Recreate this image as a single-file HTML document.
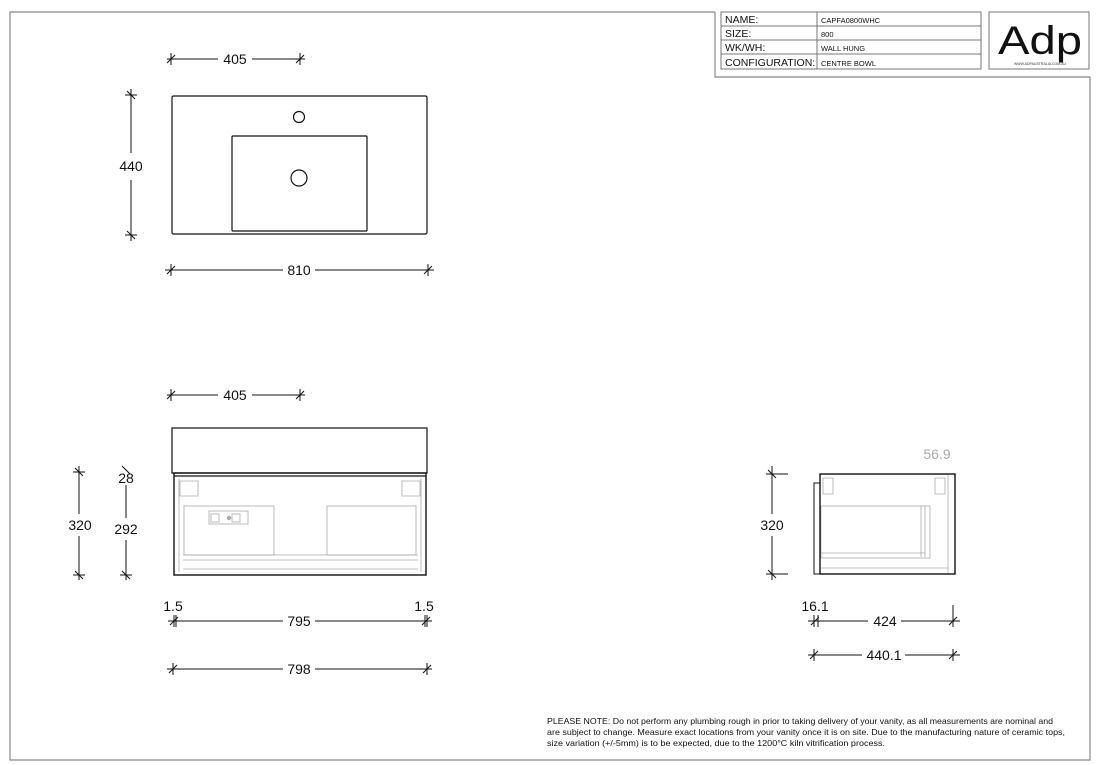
<!DOCTYPE html>
<html><head><meta charset="utf-8"><style>
html,body{margin:0;padding:0;background:#fff;}
svg{display:block;font-family:"Liberation Sans","DejaVu Sans",sans-serif;}
</style></head><body>
<svg width="1100" height="765" viewBox="0 0 1100 765" xmlns="http://www.w3.org/2000/svg">
<rect width="1100" height="765" fill="#fff"/>
<!-- frame -->
<g stroke="#888" stroke-width="1.2" fill="none">
<polyline points="715,12 10,12 10,760 1090,760 1090,77 715,77 715,12"/>
</g>
<!-- title block -->
<g stroke="#777" stroke-width="1" fill="none">
<rect x="721" y="12" width="260" height="57"/>
<line x1="721" y1="26" x2="981" y2="26"/>
<line x1="721" y1="40" x2="981" y2="40"/>
<line x1="721" y1="54" x2="981" y2="54"/>
<line x1="817" y1="12" x2="817" y2="69"/>
<rect x="989" y="12" width="100" height="57"/>
</g>
<g font-size="10.5" fill="#111">
<text x="725" y="23">NAME:</text>
<text x="725" y="37">SIZE:</text>
<text x="725" y="51">WK/WH:</text>
<text x="725" y="66">CONFIGURATION:</text>
</g>
<g font-size="7.5" fill="#111">
<text x="821" y="23">CAPFA0800WHC</text>
<text x="821" y="37">800</text>
<text x="821" y="51">WALL HUNG</text>
<text x="821" y="66">CENTRE BOWL</text>
</g>
<text x="1040" y="54" font-size="40" text-anchor="middle" fill="#111" textLength="84" lengthAdjust="spacingAndGlyphs">Adp</text>
<text x="1040" y="65" font-size="3.5" text-anchor="middle" fill="#333">WWW.ADPAUSTRALIA.COM.AU</text>

<g stroke="#111" fill="none" stroke-width="1.2">
<!-- top view -->
<rect x="172" y="96" width="255" height="138" rx="1.5"/>
<rect x="232" y="136" width="135" height="95" rx="1"/>
<circle cx="299" cy="117" r="5.5"/>
<circle cx="299" cy="178" r="8"/>
</g>

<!-- dimension lines -->
<g stroke="#111" stroke-width="1" fill="none">
<!-- 405 top -->
<line x1="167" y1="59" x2="218" y2="59"/><line x1="252" y1="59" x2="305" y2="59"/>
<line x1="171" y1="53" x2="171" y2="65"/><line x1="167" y1="63" x2="175" y2="55"/>
<line x1="300" y1="53" x2="300" y2="65"/><line x1="296" y1="63" x2="304" y2="55"/>
<!-- 440 -->
<line x1="131" y1="89" x2="131" y2="153"/><line x1="131" y1="180" x2="131" y2="241"/>
<line x1="125" y1="95" x2="137" y2="95"/><line x1="127" y1="91" x2="135" y2="99"/>
<line x1="125" y1="235" x2="137" y2="235"/><line x1="127" y1="231" x2="135" y2="239"/>
<!-- 810 -->
<line x1="165" y1="270" x2="283" y2="270"/><line x1="315" y1="270" x2="434" y2="270"/>
<line x1="171" y1="264" x2="171" y2="276"/><line x1="167" y1="274" x2="175" y2="266"/>
<line x1="428" y1="264" x2="428" y2="276"/><line x1="424" y1="274" x2="432" y2="266"/>
<!-- 405 front -->
<line x1="167" y1="395" x2="218" y2="395"/><line x1="252" y1="395" x2="305" y2="395"/>
<line x1="171" y1="389" x2="171" y2="401"/><line x1="167" y1="399" x2="175" y2="391"/>
<line x1="300" y1="389" x2="300" y2="401"/><line x1="296" y1="399" x2="304" y2="391"/>
<!-- 320 front -->
<line x1="79" y1="466" x2="79" y2="514"/><line x1="79" y1="536" x2="79" y2="580"/>
<line x1="73" y1="472" x2="85" y2="472"/><line x1="75" y1="468" x2="83" y2="476"/>
<line x1="73" y1="575" x2="85" y2="575"/><line x1="75" y1="571" x2="83" y2="579"/>
<!-- 292 -->
<line x1="126" y1="485" x2="126" y2="518"/><line x1="126" y1="540" x2="126" y2="580"/>
<line x1="120" y1="575" x2="132" y2="575"/><line x1="122" y1="571" x2="130" y2="579"/>
<line x1="122" y1="466" x2="130" y2="474"/>
<!-- 795 -->
<line x1="168" y1="621" x2="283" y2="621"/><line x1="315" y1="621" x2="432" y2="621"/>
<line x1="174" y1="615" x2="174" y2="627"/><line x1="170" y1="625" x2="178" y2="617"/>
<line x1="176" y1="615" x2="176" y2="627"/>
<line x1="425" y1="615" x2="425" y2="627"/><line x1="427" y1="615" x2="427" y2="627"/><line x1="422" y1="625" x2="430" y2="617"/>
<!-- 798 -->
<line x1="167" y1="669" x2="283" y2="669"/><line x1="315" y1="669" x2="432" y2="669"/>
<line x1="173" y1="663" x2="173" y2="675"/><line x1="169" y1="673" x2="177" y2="665"/>
<line x1="427" y1="663" x2="427" y2="675"/><line x1="423" y1="673" x2="431" y2="665"/>
<!-- 320 side -->
<line x1="772" y1="466" x2="772" y2="514"/><line x1="772" y1="536" x2="772" y2="580"/>
<line x1="766" y1="474" x2="788" y2="474"/><line x1="768" y1="470" x2="776" y2="478"/>
<line x1="766" y1="574" x2="788" y2="574"/><line x1="768" y1="570" x2="776" y2="578"/>
<!-- 424 -->
<line x1="808" y1="621" x2="868" y2="621"/><line x1="901" y1="621" x2="960" y2="621"/>
<line x1="814" y1="615" x2="814" y2="627"/><line x1="818" y1="615" x2="818" y2="627"/>
<line x1="811" y1="625" x2="819" y2="617"/>
<line x1="953" y1="605" x2="953" y2="627"/><line x1="949" y1="625" x2="957" y2="617"/>
<!-- 440.1 -->
<line x1="808" y1="655" x2="862" y2="655"/><line x1="905" y1="655" x2="960" y2="655"/>
<line x1="814" y1="649" x2="814" y2="661"/><line x1="810" y1="659" x2="818" y2="651"/>
<line x1="953" y1="649" x2="953" y2="661"/><line x1="949" y1="659" x2="957" y2="651"/>
</g>

<g font-size="14" fill="#111" text-anchor="middle">
<text x="235" y="64">405</text>
<text x="131" y="171">440</text>
<text x="299" y="275">810</text>
<text x="235" y="400">405</text>
<text x="80" y="530">320</text>
<text x="126" y="483">28</text>
<text x="126" y="534">292</text>
<text x="173" y="611">1.5</text>
<text x="424" y="611">1.5</text>
<text x="299" y="626">795</text>
<text x="299" y="674">798</text>
<text x="772" y="530">320</text>
<text x="815" y="611">16.1</text>
<text x="885" y="626">424</text>
<text x="884" y="660">440.1</text>
<text x="937" y="459" fill="#aaa">56.9</text>
</g>

<!-- front view -->
<g fill="none">
<rect x="172" y="428" width="255" height="45" stroke="#111" stroke-width="1.2"/>
<g stroke="#aaa" stroke-width="0.8">
<line x1="174" y1="473" x2="174" y2="576"/><line x1="426" y1="473" x2="426" y2="576"/>
<line x1="179" y1="478" x2="179" y2="572"/><line x1="421" y1="478" x2="421" y2="572"/>
<rect x="184" y="506" width="90" height="49"/>
<rect x="327" y="506" width="89" height="49"/>
<rect x="209" y="511" width="39" height="13"/>
<rect x="211" y="514" width="8" height="8"/><rect x="232" y="514" width="8" height="8"/>
<line x1="183" y1="555" x2="418" y2="555"/><line x1="183" y1="560" x2="418" y2="560"/>
<line x1="183" y1="569" x2="418" y2="569"/>
<path d="M180 481h18v15h-18z M402 481h18v15h-18z"/>
</g>
<circle cx="229" cy="518" r="2.2" fill="#aaa"/>
<line x1="174" y1="476" x2="426" y2="476" stroke="#111" stroke-width="1.2"/>
<rect x="174" y="473" width="252" height="102" stroke="#111" stroke-width="1.4"/>
</g>

<!-- side view -->
<g fill="none">
<g stroke="#aaa" stroke-width="0.8">
<rect x="821" y="506" width="109" height="52"/>
<line x1="921" y1="506" x2="921" y2="557"/><line x1="925" y1="506" x2="925" y2="557"/>
<line x1="821" y1="553" x2="925" y2="553"/>
<line x1="821" y1="568" x2="948" y2="568"/>
<line x1="948" y1="475" x2="948" y2="574"/>
<path d="M823 478h10v16h-10z M935 478h10v16h-10z"/>
</g>
<rect x="814" y="483" width="6" height="91" stroke="#111" stroke-width="1"/>
<rect x="820" y="474" width="135" height="100" stroke="#111" stroke-width="1.4"/>
</g>

<!-- note -->
<g font-size="8.6" fill="#111">
<text x="547" y="724" textLength="506" lengthAdjust="spacingAndGlyphs">PLEASE NOTE: Do not perform any plumbing rough in prior to taking delivery of your vanity, as all measurements are nominal and</text>
<text x="547" y="735" textLength="518" lengthAdjust="spacingAndGlyphs">are subject to change. Measure exact locations from your vanity once it is on site. Due to the manufacturing nature of ceramic tops,</text>
<text x="547" y="746" textLength="338" lengthAdjust="spacingAndGlyphs">size variation (+/-5mm) is to be expected, due to the 1200°C kiln vitrification process.</text>
</g>
</svg>
</body></html>
